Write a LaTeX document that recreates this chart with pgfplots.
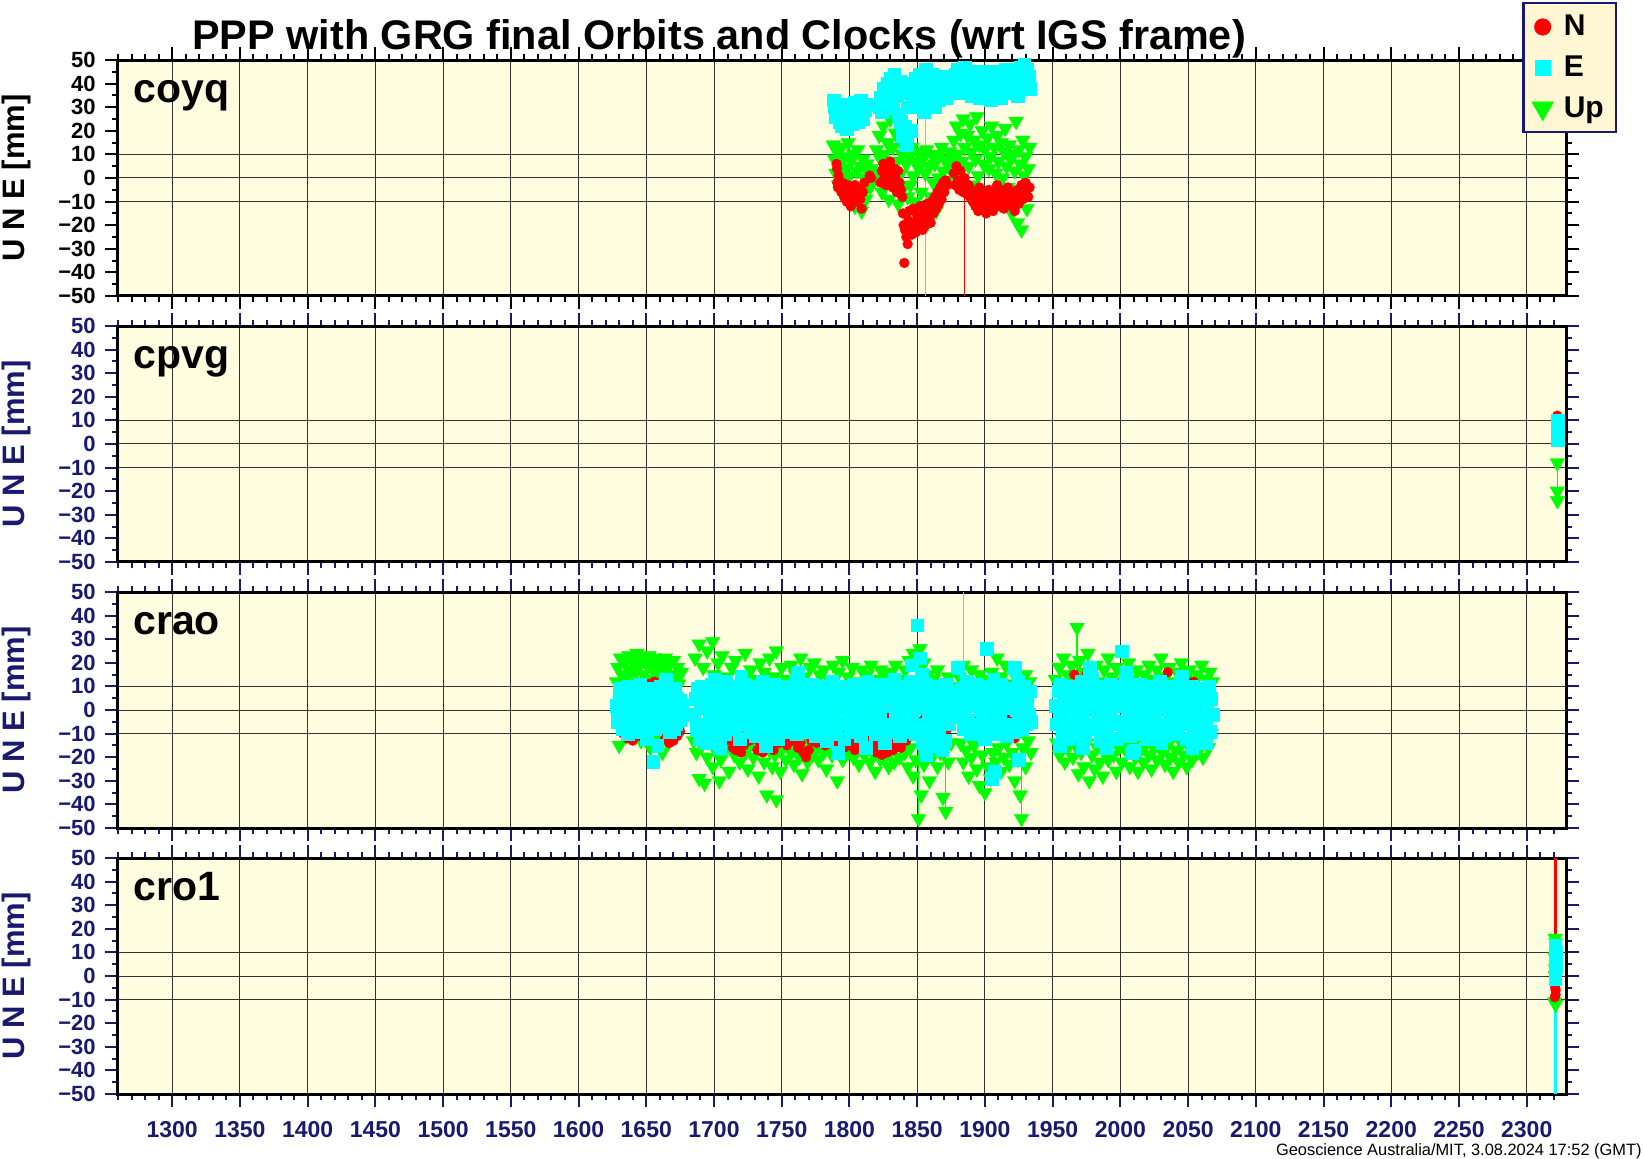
\documentclass[border=0pt]{standalone}
\usepackage{pgfplots}
\pgfplotsset{compat=1.18}
\usepackage{fontspec}
\setmainfont{Liberation Sans}
\definecolor{bgyellow}{RGB}{255,253,224}
\definecolor{legfill}{RGB}{255,247,212}
\definecolor{navy}{RGB}{25,25,112}
\definecolor{cN}{RGB}{255,0,0}
\definecolor{cE}{RGB}{0,255,255}
\definecolor{cU}{RGB}{0,255,0}
\tikzset{panelname/.style={anchor=base west, inner sep=0pt, font=\bfseries\fontsize{20.5}{20.5}\selectfont}}
\pgfplotsset{
  Nst/.style={only marks, mark=*, mark size=2.5pt, color=cN, mark options={draw=cN, fill=cN, line width=0.1pt}},
  Est/.style={only marks, mark=square*, mark size=3.2pt, color=cE, mark options={draw=cE, fill=cE, line width=0.1pt}},
  Ust/.style={only marks, mark=triangle*, mark size=4.3pt, color=cU, mark options={rotate=180, draw=cU, fill=cU, line width=0.1pt}},
  panel/.style={
    at={(59pt,#1)}, anchor=south west,
    scale only axis, width=724pt, height=118pt,
    xmin=1260, xmax=2329, ymin=-50, ymax=50,
    axis background/.style={fill=bgyellow},
    axis line style={line width=1.5pt, black},
    xtick={1300,1350,...,2300}, minor xtick={1260,1270,...,2320},
    ytick={-50,-40,...,50}, minor ytick={-45,-35,...,45},
    yticklabels={−50,−40,−30,−20,−10,0,10,20,30,40,50},
    xticklabels={},
    tick align=outside, tick pos=both,
    major tick length=6.5pt, minor tick length=3pt,
    tick style={line width=1pt, navy},
    xmajorgrids=true, ymajorgrids=false, xminorgrids=false, yminorgrids=false,
    major grid style={black!80, line width=0.5pt},
    extra y ticks={-10,0,10}, extra y tick labels={},
    extra y tick style={ymajorgrids=true, major tick length=0pt, tick style={draw=none}},
    yticklabel style={font=\bfseries\fontsize{11}{11}\selectfont, text=navy, inner sep=1.5pt, xshift=-3pt},
    ylabel={U N E [mm]},
    ylabel style={at={(axis description cs:-0.07,0.5)}, anchor=center, font=\bfseries\fontsize{15.5}{15.5}\selectfont, text=navy},
  },
}
\begin{document}
\begin{tikzpicture}
\useasboundingbox (0,0) rectangle (822pt,579pt);
% ---------------- panel 1: coyq
\begin{axis}[panel=431pt,
  tick style={line width=1pt, black},
  yticklabel style={text=black},
  ylabel style={text=black},
  legend style={at={(rel axis cs:1.0352,1.246)}, anchor=north east, draw=navy, line width=1.2pt, fill=legfill,
    font=\bfseries\fontsize{15}{15}\selectfont, row sep=4.5pt, inner xsep=4pt, inner ysep=4pt,
    /tikz/every odd column/.append style={column sep=3pt}},
  legend cell align=left]
\addlegendimage{Nst, mark size=4.2pt}\addlegendentry{N}
\addlegendimage{Est, mark size=3.7pt}\addlegendentry{E}
\addlegendimage{Ust, mark size=6.4pt}\addlegendentry{Up}
\addplot[Ust, forget plot] coordinates {
(1788,14)(1789,8)(1790,2)(1791,11)(1792,-3)(1793,6)(1794,13)(1795,-1)(1796,9)(1797,4)(1798,-8)(1799,15)(1800,1)(1801,7)(1802,-5)(1803,10)(1804,-12)(1805,3)(1806,12)(1807,-6)(1808,5)(1809,-14)(1810,8)(1811,0)(1812,-9)(1813,6)(1814,2)(1815,-4)(1816,4)(1817,-2)
(1820,12)(1821,3)(1822,18)(1823,8)(1824,-6)(1825,22)(1826,10)(1827,1)(1828,15)(1829,-9)(1830,25)(1831,5)(1832,13)(1833,-2)(1834,19)(1835,7)(1836,-11)(1837,16)(1838,2)(1839,10)(1840,-4)(1841,14)(1842,6)(1843,-8)
(1844,9)(1845,-3)(1846,13)(1847,1)(1848,-10)(1849,7)(1850,-15)(1851,4)(1852,11)(1853,-6)(1854,8)(1855,-12)(1856,2)(1857,12)(1858,-19)(1859,5)(1860,-8)(1861,10)(1862,-2)(1863,6)(1864,-14)(1865,9)(1866,0)(1867,-7)(1868,13)(1869,3)(1870,-4)(1871,8)(1872,-1)(1873,5)(1874,11)
(1876,8)(1877,16)(1878,3)(1879,22)(1880,10)(1881,-2)(1882,19)(1883,7)(1884,25)(1885,13)(1886,-5)(1887,18)(1888,5)(1889,23)(1890,11)(1891,-3)(1892,16)(1893,8)(1894,26)(1895,1)(1896,14)(1897,-8)(1898,20)(1899,6)(1900,12)(1901,-12)(1902,17)(1903,4)(1904,9)(1905,22)(1906,-6)(1907,13)(1908,2)(1909,18)(1910,7)(1911,-10)(1912,15)(1913,0)(1914,11)(1915,21)(1916,5)(1917,-4)(1918,14)(1919,8)(1920,-15)(1921,10)(1922,3)(1923,24)(1924,-19)(1925,12)(1926,6)(1927,-22)(1928,16)(1929,1)(1930,9)(1931,-13)(1932,4)(1933,13)
};
\addplot[cN, line width=0.6pt, forget plot] coordinates {(1885,-50)(1885,-2)};
\addplot[Nst, forget plot] coordinates {
(1790.5,6)(1790.8,4)(1791,-2)(1791.5,-4)(1792,1)(1793,-3)(1794,-6)(1795,-2)(1796,-8)(1797,-5)(1798,-10)(1798.5,-3)(1799,-7)(1800,-4)(1800.5,-9)(1801,-12)(1802,-6)(1803,-8)(1804,-3)(1805,-10)(1806,-7)(1807,-5)(1808,-9)(1809,-13)(1810,-6)(1811,-2)
(1815,1)(1816,0)
(1823,-2)(1824,3)(1825,6)(1826,1)(1827,-3)(1828,5)(1829,-1)(1830,7)(1831,2)(1832,-4)(1833,4)(1834,0)(1835,-6)(1836,3)(1837,-2)(1838,-5)(1839,-8)
(1839.5,-15)(1840,-20)(1840.5,-36)(1841,-22)(1842,-25)(1843,-28)(1843.5,-18)(1844,-14)(1845,-20)(1846,-24)(1847,-13)(1848,-19)(1849,-23)(1850,-16)(1851,-21)(1852,-12)(1853,-18)(1854,-22)(1855,-15)(1856,-20)(1857,-11)(1858,-17)
(1859,-14)(1860,-19)(1861,-10)(1862,-15)(1863,-8)(1864,-13)(1865,-6)(1866,-11)(1867,-4)(1868,-9)(1869,-2)(1870,-6)(1871,-1)(1872,-3)
(1877,2)(1878,-3)(1879,5)(1880,-1)(1881,-5)(1882,3)(1883,-2)(1884,-6)(1885,0)(1886,-4)(1887,-7)
(1888,-3)(1889,-8)(1890,-5)(1891,-10)(1892,-6)(1893,-12)(1894,-8)(1895,-14)(1896,-4)(1897,-9)(1898,-13)(1899,-7)(1900,-11)(1901,-15)(1902,-9)(1903,-5)(1904,-12)(1905,-8)(1906,-14)(1907,-6)(1908,-10)(1909,-3)(1910,-8)(1911,-12)(1912,-5)(1913,-9)(1914,-13)(1915,-7)(1916,-11)(1917,-4)(1918,-9)(1919,-6)(1920,-12)(1921,-8)(1922,-14)(1923,-10)(1924,-5)(1925,-11)(1926,-7)(1927,-3)(1928,-9)(1929,-6)(1930,-2)(1931,-5)(1932,-8)(1933,-4)
};
\addplot[cE, line width=0.6pt, forget plot] coordinates {(1856,-50)(1856,46)};
\addplot[Est, forget plot] coordinates {
(1788,33)(1789,30)(1790,26)(1791,31)(1792,28)(1793,24)(1794,22)(1795,27)(1796,30)(1797,25)(1798,21)(1799,28)(1800,31)(1801,26)(1802,23)(1803,29)(1804,32)(1805,27)(1806,24)(1807,30)(1808,33)(1809,28)(1810,25)(1811,29)(1812,31)
(1822,30)(1823,34)(1824,28)(1825,38)(1826,32)(1827,36)(1828,40)(1829,33)(1830,42)(1831,37)(1832,30)(1833,44)(1834,39)(1835,35)(1836,27)(1837,41)(1838,24)(1839,18)(1840,36)(1841,22)(1842,14)(1843,30)(1844,40)(1845,20)(1846,33)(1847,38)
(1848,35)(1849,42)(1850,30)(1851,38)(1852,44)(1853,33)(1854,40)(1855,28)(1856,46)(1857,36)(1858,41)(1859,32)(1860,39)(1861,44)(1862,35)(1863,30)(1864,42)(1865,37)(1866,33)(1867,40)(1868,35)(1869,38)(1870,43)(1871,34)(1872,39)(1873,36)
(1877,40)(1878,44)(1879,38)(1880,46)(1881,41)(1882,36)(1883,43)(1884,39)(1885,47)(1886,42)(1887,37)(1888,44)(1889,40)(1890,35)(1891,45)(1892,41)(1893,37)(1894,43)(1895,39)(1896,34)(1897,42)(1898,38)(1899,45)(1900,40)(1901,36)(1902,43)(1903,39)(1904,33)(1905,41)(1906,45)(1907,38)(1908,42)(1909,36)(1910,44)(1911,40)(1912,34)(1913,43)(1914,39)(1915,46)(1916,41)(1917,37)(1918,44)(1919,38)(1920,42)(1921,36)(1922,45)(1923,40)(1924,35)(1925,43)(1926,47)(1927,39)(1928,44)(1929,48)(1930,41)(1931,46)(1932,43)(1933,38)
};
\node[panelname] at ([xshift=7.5pt,yshift=-21pt]rel axis cs:0,1) {coyq};
\end{axis}
% ---------------- panel 2: cpvg
\begin{axis}[panel=298pt]
\addplot[cU, line width=0.6pt, forget plot] coordinates {(2322.6,-8)(2322.6,-24)};
\addplot[Ust, forget plot] coordinates {(2322.6,-8)(2322.6,-20)(2322.7,-24)};
\addplot[Nst, forget plot] coordinates {(2322.5,12)(2322.7,9)(2322.4,8)};
\addplot[Est, forget plot] coordinates {(2322.6,10)(2322.5,7)(2322.7,4)(2322.6,2)};
\node[panelname] at ([xshift=7.5pt,yshift=-21pt]rel axis cs:0,1) {cpvg};
\end{axis}
% ---------------- panel 3: crao
\begin{axis}[panel=165pt]
\addplot[cU, line width=0.6pt, forget plot] coordinates {(1851,-46)(1851,-15)};
\addplot[cU, line width=0.6pt, forget plot] coordinates {(1871,-43)(1871,-15)};
\addplot[cU, line width=0.6pt, forget plot] coordinates {(1927,-46)(1927,-15)};
\addplot[cU, line width=0.6pt, forget plot] coordinates {(1968,35)(1968,12)};
\addplot[Ust, forget plot] coordinates {
(1628,12)(1629,18)(1630,-15)(1631,22)(1632,15)(1633,9)(1634,20)(1635,-11)(1636,14)(1637,23)(1638,17)(1639,10)(1640,21)(1641,-8)(1642,16)(1643,24)(1644,12)(1645,19)(1646,-13)(1647,22)(1648,15)(1649,8)(1650,20)(1651,13)(1652,23)(1653,-16)(1654,18)(1655,11)(1656,22)(1657,16)(1658,-12)(1659,21)(1660,14)(1661,19)(1662,-18)(1663,12)(1664,22)(1665,17)(1666,-14)(1667,20)(1668,9)(1669,15)(1670,21)(1671,-10)(1672,14)(1673,18)(1674,11)(1675,-6)(1676,16)
(1686,22)(1689,28)(1692,18)(1695,25)(1699,29)(1700,15)(1703,20)(1706,23)(1710,14)(1713,18)(1716,21)(1720,15)(1723,24)(1727,17)(1730,13)(1734,20)(1737,16)(1741,22)(1744,14)(1746,25)(1750,18)(1753,13)(1757,19)(1760,15)(1764,22)(1767,14)(1771,18)(1774,20)(1778,15)(1781,17)(1785,13)(1788,19)(1792,16)(1795,21)(1799,14)(1802,18)(1806,12)(1809,17)(1813,15)(1816,19)(1820,13)(1823,17)(1827,14)(1830,16)(1834,19)(1837,13)(1841,17)(1844,21)(1847,24)(1850,18)(1852,26)(1855,20)(1858,15)(1862,13)(1865,17)(1869,11)(1873,14)(1876,10)
(1685,-13)(1687,-18)(1689,-29)(1691,-15)(1693,-31)(1695,-20)(1697,-12)(1699,-24)(1701,-17)(1703,-14)(1704,-30)(1705,-21)(1707,-11)(1709,-16)(1711,-26)(1713,-13)(1715,-19)(1717,-15)(1719,-22)(1721,-12)(1723,-18)(1725,-25)(1727,-14)(1729,-20)(1731,-16)(1733,-28)(1735,-13)(1737,-22)(1739,-36)(1741,-17)(1743,-24)(1745,-19)(1746,-38)(1747,-14)(1749,-26)(1751,-16)(1753,-21)(1755,-13)(1757,-18)(1759,-23)(1761,-15)(1763,-20)(1765,-27)(1767,-17)(1769,-22)(1771,-14)(1773,-19)(1775,-16)(1777,-21)(1779,-13)(1781,-18)(1783,-25)(1785,-15)(1787,-19)(1789,-14)(1791,-30)(1793,-17)(1795,-21)(1797,-13)(1799,-18)(1801,-15)(1803,-20)(1805,-16)(1807,-23)(1809,-14)(1811,-19)(1813,-15)(1815,-22)(1817,-18)(1819,-26)(1821,-16)(1823,-21)(1825,-14)(1827,-19)(1829,-24)(1831,-17)(1833,-22)(1835,-15)(1837,-20)(1839,-13)(1841,-18)(1843,-24)(1845,-16)(1847,-28)(1849,-21)(1851,-46)(1853,-36)(1855,-23)(1857,-17)(1859,-30)(1861,-20)(1863,-15)(1865,-24)(1867,-18)(1869,-37)(1871,-43)(1873,-22)(1875,-14)
(1881,14)(1884,19)(1887,12)(1890,17)(1893,10)(1896,15)(1899,13)(1902,11)(1905,16)(1909,22)(1912,14)(1915,19)(1918,11)(1921,16)(1924,13)(1927,10)(1930,15)(1933,12)
(1882,-14)(1884,-22)(1886,-17)(1888,-28)(1890,-20)(1892,-15)(1894,-25)(1896,-32)(1898,-19)(1900,-35)(1902,-24)(1904,-29)(1906,-18)(1908,-22)(1910,-16)(1912,-26)(1914,-20)(1916,-14)(1918,-23)(1920,-18)(1922,-30)(1924,-21)(1926,-36)(1927,-46)(1928,-16)(1930,-24)(1932,-13)(1934,-18)
(1952,13)(1955,18)(1958,22)(1961,15)(1964,19)(1966,13)(1968,35)(1970,21)(1973,16)(1976,24)(1979,14)(1982,19)(1985,12)(1988,17)(1991,22)(1994,14)(1997,18)(2000,12)(2003,16)(2006,20)(2009,13)(2012,17)(2015,11)(2018,15)(2021,19)(2024,13)(2027,17)(2030,22)(2033,14)(2036,18)(2039,12)(2042,16)(2045,20)(2048,13)(2051,17)(2054,11)(2057,15)(2060,19)(2063,13)(2066,16)(2068,12)
(1953,-14)(1955,-19)(1957,-12)(1959,-22)(1961,-16)(1963,-13)(1965,-20)(1967,-15)(1969,-27)(1971,-18)(1973,-24)(1975,-14)(1977,-30)(1979,-19)(1981,-25)(1983,-16)(1985,-22)(1987,-28)(1989,-17)(1991,-21)(1993,-14)(1995,-19)(1997,-26)(1999,-16)(2001,-22)(2003,-13)(2005,-18)(2007,-24)(2009,-15)(2011,-20)(2013,-26)(2015,-17)(2017,-22)(2019,-14)(2021,-19)(2023,-25)(2025,-16)(2027,-21)(2029,-13)(2031,-18)(2033,-23)(2035,-15)(2037,-20)(2039,-26)(2041,-17)(2043,-22)(2045,-14)(2047,-19)(2049,-24)(2051,-16)(2053,-21)(2055,-13)(2057,-18)(2059,-15)(2061,-20)(2063,-12)(2065,-16)(2067,-10)
};
\addplot[Nst, forget plot] coordinates {
(1633,-10)(1636,-12)(1640,-13)(1645,-11)(1652,11)(1654,9)(1656,12)(1657,7)(1659,10)(1661,6)(1664,-12)(1667,-14)(1670,-13)(1673,-11)(1675,-9)(1638,0)(1648,2)(1660,-2)(1668,3)
(1686,-8)(1688,-12)(1690,-9)(1692,-14)(1694,-7)(1696,-13)(1698,-10)(1700,-8)(1702,8)(1704,-15)(1706,-9)(1708,-12)(1710,-6)(1712,-13)(1714,-16)(1716,-17)(1718,-14)(1720,-18)(1722,-15)(1724,-10)(1726,-13)(1728,-7)(1730,-12)(1732,-17)(1734,-14)(1736,-18)(1738,-11)(1740,-16)(1742,-13)(1744,-17)(1746,-10)(1748,-14)(1750,-8)(1752,-12)(1754,-15)(1756,-9)(1758,-13)(1760,-11)(1762,-16)(1764,-14)(1766,-18)(1768,-20)(1770,-17)(1772,-13)(1774,-10)(1776,-14)(1778,-8)(1780,-12)(1782,-15)(1784,-11)(1786,-7)(1788,-13)(1790,-10)(1792,-14)(1794,-12)(1796,-16)(1798,-10)(1800,-15)(1802,-13)(1804,-17)(1806,-11)(1808,-14)(1810,-16)(1812,-9)(1814,-12)(1816,-15)(1818,-13)(1820,-18)(1822,-16)(1824,-19)(1826,-15)(1828,-18)(1830,-2)(1832,-17)(1834,-14)(1836,-12)(1838,-16)(1840,-10)(1842,-13)(1844,-8)(1846,-11)(1848,-6)(1850,-9)(1852,-5)(1854,-8)(1856,-3)(1858,-6)(1860,-8)(1862,-5)(1864,-9)(1866,-7)(1868,-6)(1870,-18)(1872,-8)(1874,-5)
(1882,-2)(1884,-8)(1886,2)(1888,-4)(1890,-10)(1892,-6)(1894,-3)(1896,-8)(1898,-12)(1900,-5)(1902,-9)(1904,-2)(1906,-7)(1908,-11)(1910,-4)(1912,-8)(1914,-6)(1916,-10)(1918,-3)(1919,6)(1920,-7)(1922,-12)(1924,-5)(1926,-9)(1928,9)(1930,-6)(1932,-3)
(1955,10)(1958,6)(1962,9)(1966,15)(1969,7)(1972,11)(1975,15)(1978,8)(1981,12)(1984,6)(1987,10)(1990,5)(1993,9)(1996,7)(2000,11)(2004,6)(2008,9)(2012,5)(2016,8)(2020,7)(2024,10)(2028,6)(2032,11)(2035,16)(2038,8)(2042,10)(2046,7)(2050,9)(2054,12)(2058,8)(2062,6)(2066,9)(2068,4)(1960,-8)(1985,-10)(2015,-7)(2040,-9)
};
\addplot[cE, line width=0.6pt, forget plot] coordinates {(1884,50)(1884,5)};
\addplot[Est, forget plot] coordinates {
(1628,2)(1629,-3)(1630,6)(1631,-5)(1632,1)(1633,8)(1634,-7)(1635,3)(1636,-1)(1637,10)(1638,-4)(1639,5)(1640,-9)(1641,0)(1642,7)(1643,-6)(1644,2)(1645,11)(1646,-2)(1647,4)(1648,-8)(1649,6)(1650,-12)(1651,1)(1652,9)(1653,-5)(1654,3)(1655,-22)(1656,-1)(1657,7)(1658,-15)(1659,4)(1660,-3)(1661,8)(1662,-7)(1663,2)(1664,13)(1665,-4)(1666,5)(1667,-9)(1668,1)(1669,6)(1670,-2)(1671,9)(1672,-6)(1673,3)(1674,-1)(1675,4)
(1628.5,-5)(1630.5,9)(1632.5,-8)(1634.5,5)(1636.5,-10)(1638.5,8)(1640.5,3)(1642.5,-2)(1644.5,-9)(1646.5,6)(1648.5,-1)(1650.5,4)(1652.5,-4)(1654.5,7)(1656.5,-8)(1658.5,1)(1660.5,10)(1662.5,-6)(1664.5,2)(1666.5,-3)(1668.5,7)(1670.5,-8)(1672.5,5)(1674.5,-4)(1676,2)
(1685,-2)(1686,5)(1687,-8)(1688,9)(1689,-12)(1690,3)(1691,10)(1692,-6)(1693,1)(1694,7)
(1695,-9)(1696,4)(1697,-3)(1698,11)(1699,-7)(1700,2)(1701,8)(1702,-11)(1703,6)(1704,-1)
(1705,9)(1706,-5)(1707,3)(1708,-10)(1709,12)(1710,0)(1711,-7)(1712,6)(1713,-3)(1714,10)
(1715,-8)(1716,4)(1717,-1)(1718,8)(1719,-12)(1720,5)(1721,2)(1722,-6)(1723,11)(1724,-4)
(1725,7)(1726,-9)(1727,1)(1728,10)(1729,-5)(1730,3)(1731,-11)(1732,8)(1733,-2)(1734,6)
(1735,-7)(1736,12)(1737,0)(1738,-10)(1739,5)(1740,-3)(1741,9)(1742,-8)(1743,2)(1744,11)
(1745,-5)(1746,6)(1747,-12)(1748,3)(1749,8)(1750,-1)(1751,-9)(1752,10)(1753,4)(1754,-6)
(1755,1)(1756,9)(1757,-8)(1758,5)(1759,-3)(1760,12)(1761,-10)(1762,2)(1763,7)(1764,-5)
(1765,10)(1766,-2)(1767,4)(1768,-9)(1769,8)(1770,-6)(1771,1)(1772,11)(1773,-4)(1774,6)
(1775,-11)(1776,3)(1777,9)(1778,-7)(1779,0)(1780,10)(1781,-5)(1782,5)(1783,-13)(1784,7)
(1785,2)(1786,-8)(1787,12)(1788,-3)(1789,6)(1790,-10)(1791,4)(1792,9)(1793,-6)(1794,1)
(1795,8)(1796,-12)(1797,3)(1798,10)(1799,-4)(1800,6)(1801,-9)(1802,2)(1803,11)(1804,-7)
(1805,5)(1806,-2)(1807,9)(1808,-11)(1809,4)(1810,7)(1811,-6)(1812,0)(1813,12)(1814,-8)
(1815,3)(1816,10)(1817,-5)(1818,6)(1819,-10)(1820,1)(1821,8)(1822,-3)(1823,11)(1824,-7)
(1825,4)(1826,-12)(1827,9)(1828,2)(1829,-6)(1830,7)(1831,-9)(1832,5)(1833,13)(1834,-4)
(1835,0)(1836,8)(1837,-11)(1838,6)(1839,3)(1840,-7)(1841,10)(1842,-2)(1843,5)(1844,-9)
(1845,12)(1846,-5)(1847,7)(1848,1)(1849,-10)(1850,9)(1851,4)(1852,-6)(1853,15)(1854,2)
(1855,-8)(1856,11)(1857,5)(1858,-3)(1859,8)(1860,-12)(1861,6)(1862,1)(1863,10)(1864,-7)
(1865,3)(1866,-9)(1867,9)(1868,-4)(1869,7)(1870,-13)(1871,2)(1872,11)(1873,-6)(1874,5)(1875,-2)(1876,8)
(1694,-14)(1700,13)(1704,-16)(1720,14)(1738,-15)(1762,16)(1791,-18)(1812,-16)(1826,-14)(1838,-6)(1842,-8)(1846,19)(1850,36)(1852,22)(1854,-14)(1856,-19)(1862,-15)(1868,-17)(1870,9)
(1880,18)(1881,4)(1882,-3)(1883,9)(1884,-8)(1885,1)(1886,12)(1887,-5)(1888,6)(1889,-10)(1890,2)
(1891,8)(1892,-6)(1893,3)(1894,11)(1895,-9)(1896,0)(1897,7)(1898,-4)(1899,10)(1900,-12)
(1901,5)(1902,-2)(1903,9)(1904,-7)(1905,2)(1906,13)(1907,-10)(1908,4)(1909,-5)(1910,8)
(1911,-1)(1912,11)(1913,-8)(1914,3)(1915,6)(1916,-11)(1917,1)(1918,9)(1919,-6)(1920,4)
(1921,-9)(1922,7)(1923,0)(1924,12)(1925,-4)(1926,5)(1927,-8)(1928,2)(1929,10)(1930,-6)
(1931,3)(1932,-2)(1933,8)(1934,-5)
(1901,26)(1907,-26)(1905,-29)(1922,18)(1925,-21)
(1952,2)(1953,-6)(1954,8)(1955,-3)(1956,11)(1957,-9)(1958,4)(1959,-1)(1960,7)(1961,-12)
(1962,5)(1963,-4)(1964,10)(1965,-7)(1966,1)(1967,9)(1968,-10)(1969,3)(1970,-5)(1971,12)
(1972,-2)(1973,6)(1974,-11)(1975,8)(1976,0)(1977,-6)(1978,4)(1979,13)(1980,-8)(1981,2)
(1982,9)(1983,-4)(1984,6)(1985,-13)(1986,3)(1987,10)(1988,-7)(1989,1)(1990,-10)(1991,7)
(1992,-3)(1993,11)(1994,-6)(1995,4)(1996,8)(1997,-12)(1998,2)(1999,6)(2000,-5)(2001,10)
(2002,-9)(2003,3)(2004,12)(2005,-2)(2006,5)(2007,-11)(2008,7)(2009,0)(2010,-7)(2011,9)
(2012,4)(2013,-5)(2014,11)(2015,-10)(2016,2)(2017,8)(2018,-3)(2019,6)(2020,-12)(2021,1)
(2022,10)(2023,-7)(2024,5)(2025,-2)(2026,9)(2027,-9)(2028,3)(2029,12)(2030,-6)(2031,0)
(2032,7)(2033,-11)(2034,4)(2035,10)(2036,-4)(2037,2)(2038,-8)(2039,9)(2040,-1)(2041,6)
(2042,-10)(2043,3)(2044,11)(2045,-6)(2046,5)(2047,-3)(2048,8)(2049,-12)(2050,1)(2051,7)
(2052,-5)(2053,10)(2054,-8)(2055,4)(2056,-1)(2057,9)(2058,-11)(2059,2)(2060,6)(2061,-4)
(2062,8)(2063,-7)(2064,3)(2065,10)(2066,-9)(2067,5)(2068,-2)
(1977,18)(1972,-16)(2001,25)(2008,-18)(2053,-16)(2010,-17)(2030,-14)(2063,-14)(1955,-15)(1990,-16)(2004,16)(2045,14)
};
\node[panelname] at ([xshift=7.5pt,yshift=-21pt]rel axis cs:0,1) {crao};
\end{axis}
% ---------------- panel 4: cro1
\begin{axis}[panel=32pt,
  xticklabels={1300,1350,1400,1450,1500,1550,1600,1650,1700,1750,1800,1850,1900,1950,2000,2050,2100,2150,2200,2250,2300},
  xticklabel style={font=\bfseries\fontsize{11.5}{11.5}\selectfont, text=navy, yshift=-3.5pt}]
\addplot[Ust, forget plot] coordinates {(2321,16)(2321.3,14)(2320.8,8)(2321.2,3)(2321,0)(2320.7,-11)(2321.3,-12)};
\addplot[cN, line width=1.5pt, forget plot] coordinates {(2321,15)(2321,50)};
\addplot[Nst, forget plot] coordinates {(2320.6,-3)(2321.4,-6)(2320.7,-9)(2321.3,-8)(2321,-5)};
\addplot[cE, line width=1.5pt, forget plot] coordinates {(2321,-1)(2321,-50)};
\addplot[Est, forget plot] coordinates {(2321,13)(2321.2,10)(2320.9,7)(2321.1,4)(2321,1)(2321,-1)};
\node[panelname] at ([xshift=7.5pt,yshift=-21pt]rel axis cs:0,1) {cro1};
\end{axis}
% ---------------- title and footnote
\node[anchor=base, font=\bfseries\fontsize{20.7}{20.7}\selectfont] at (359.5pt,554pt) {PPP with GRG final Orbits and Clocks (wrt IGS frame)};
\node[anchor=base east, inner sep=0pt, font=\fontsize{8.2}{8.2}\selectfont] at (821pt,1.5pt) {Geoscience Australia/MIT, 3.08.2024 17:52 (GMT)};
\end{tikzpicture}
\end{document}
